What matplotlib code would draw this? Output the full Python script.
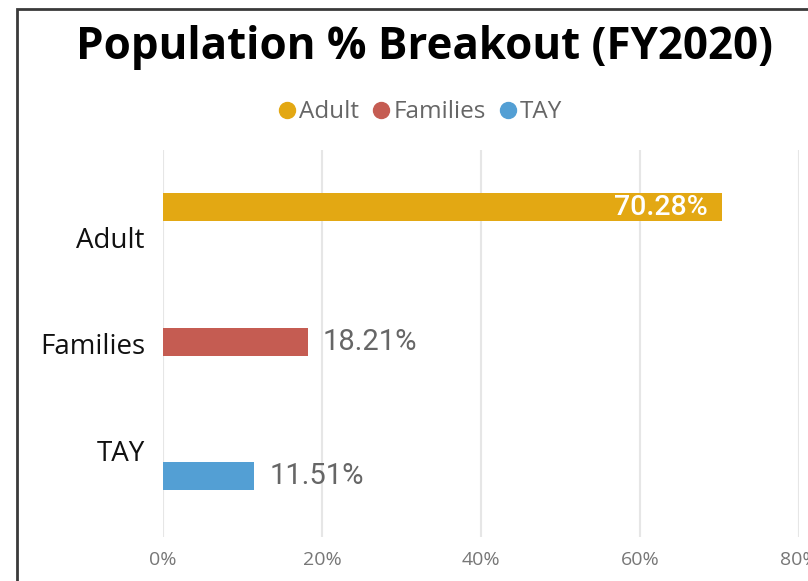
import matplotlib.pyplot as plt
from matplotlib.patches import Rectangle
from matplotlib.lines import Line2D

# data
categories = ['Adult', 'Families', 'TAY']
values = [70.28, 18.21, 11.51]
colors = ['#E3A813', '#C55C52', '#539FD4']
xticks = [0, 20, 40, 60, 80]

fig = plt.figure(figsize=(8.08, 5.81), dpi=100)
ax = fig.add_axes([0.2017, 0.0757, 0.7871, 0.6661])

# clustered bars: each category has only its own series, offset inside the band
bar_h = 0.263
n = len(categories)
for i, (cat, val, col) in enumerate(zip(categories, values, colors)):
    y = i + (i - (n - 1) / 2) * bar_h - 0.015
    ax.barh(y, val, height=bar_h, color=col, zorder=3)
    if i == 0:
        ax.annotate(f'{val:.2f}%', (val, y), xytext=(-14, 0), textcoords='offset pixels',
                    ha='right', va='center', color='white', fontsize=20.5,
                    family='Roboto', fontweight='medium', zorder=4)
    else:
        ax.annotate(f'{val:.2f}%', (val, y), xytext=(15, 0), textcoords='offset pixels',
                    ha='left', va='center', color='#666666', fontsize=21,
                    family='Roboto', zorder=4)

ax.set_xlim(0, 80)
ax.set_ylim(2.817, -0.817)
ax.set_xticks(xticks)
ax.set_xticklabels([f'{t}%' for t in xticks], color='#777777', fontsize=14, family='Open Sans')
ax.set_yticks(range(n))
ax.set_yticklabels(categories, fontsize=20, family='Open Sans', color='#111111')
ax.tick_params(axis='both', length=0)
ax.tick_params(axis='y', pad=13)
ax.tick_params(axis='x', pad=10)
ax.grid(axis='x', color='#E6E6E6', linewidth=1.5, zorder=0)
for s in ax.spines.values():
    s.set_visible(False)

fig.text(0.525, 0.919, 'Population % Breakout (FY2020)', ha='center', va='center',
         fontsize=31.6, fontweight='bold', family='Open Sans', color='black')

handles = [Line2D([], [], marker='o', linestyle='', markersize=11.5, color=c) for c in colors]
fig.legend(handles, categories, loc='center', bbox_to_anchor=(0.5105, 0.807), ncol=3,
           frameon=False, handletextpad=-0.5, columnspacing=-0.1,
           prop={'family': 'Open Sans', 'size': 17.5}, labelcolor='#666666')

# outer frame (cut off at right and bottom)
fig.patches.append(Rectangle((16.5 / 808, -0.1), 1.2, 1 - 9 / 581 + 0.1,
                             transform=fig.transFigure, fill=False,
                             edgecolor='#3a3a3a', linewidth=2))

fig.savefig('out.png', dpi=100)
